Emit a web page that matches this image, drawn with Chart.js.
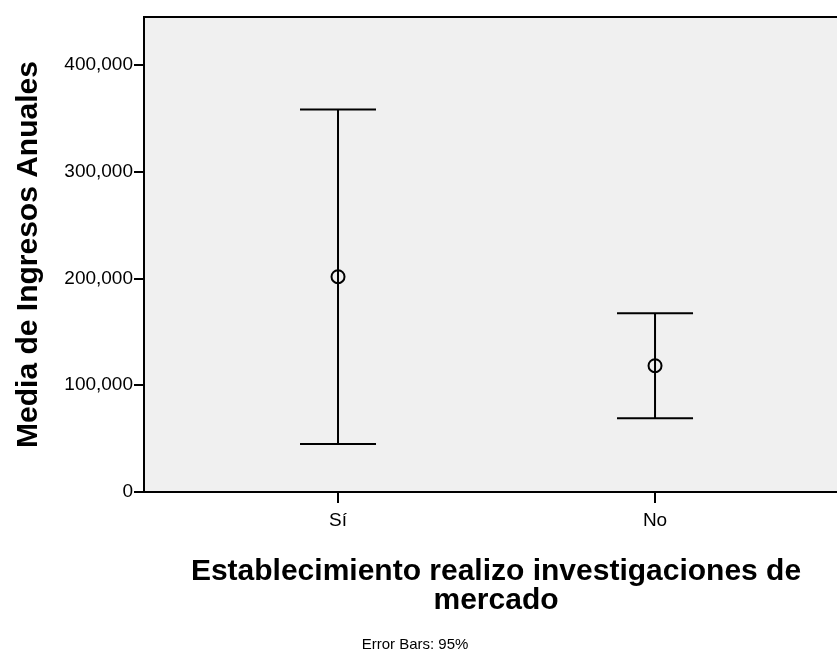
<!DOCTYPE html>
<html>
<head>
<meta charset="utf-8">
<script src="https://cdn.jsdelivr.net/npm/chart.js@4/dist/chart.umd.min.js"></script>
<style>
  html, body { margin: 0; padding: 0; background: #fff; overflow: hidden; }
  #wrap { width: 837px; height: 652px; position: relative; }
</style>
</head>
<body>
<div id="wrap"><canvas id="c"></canvas></div>
<script>
// ---- data ----
const categories = ["Sí", "No"];
const means = [201700, 118300];
const lowerCI = [45000, 69000];
const upperCI = [358300, 167400];
const yTickValues = [0, 100000, 200000, 300000, 400000];
const yAxisTitle = "Media de Ingresos Anuales";
const xAxisTitle = ["Establecimiento realizo investigaciones de", "mercado"];
const footnote = "Error Bars: 95%";

const FONT = "'Liberation Sans', Arial, sans-serif";

const errorBarPlugin = {
  id: 'errorBars',
  beforeDatasetsDraw(chart) {
    const ctx = chart.ctx;
    const xs = chart.scales.x, ys = chart.scales.y;
    const cap = 38;
    ctx.save();
    ctx.strokeStyle = '#000';
    ctx.lineWidth = 2;
    categories.forEach((c, i) => {
      const x = xs.getPixelForValue(i + 1);
      const yl = ys.getPixelForValue(lowerCI[i]);
      const yu = ys.getPixelForValue(upperCI[i]);
      ctx.beginPath();
      ctx.moveTo(x, yl); ctx.lineTo(x, yu);
      ctx.moveTo(x - cap, yu); ctx.lineTo(x + cap, yu);
      ctx.moveTo(x - cap, yl); ctx.lineTo(x + cap, yl);
      ctx.stroke();
    });
    ctx.restore();
  }
};

const bgPlugin = {
  id: 'plotBg',
  beforeDraw(chart) {
    const {ctx, chartArea: a} = chart;
    ctx.save();
    ctx.fillStyle = '#f0f0f0';
    ctx.fillRect(a.left, a.top, chart.width - a.left, a.bottom - a.top);
    ctx.restore();
  },
  afterDraw(chart) {
    const {ctx, chartArea: a} = chart;
    ctx.save();
    ctx.strokeStyle = '#000';
    ctx.lineWidth = 2;
    ctx.beginPath();
    ctx.moveTo(a.left - 1, a.top);
    ctx.lineTo(chart.width, a.top);
    ctx.stroke();
    ctx.fillStyle = '#000';
    ctx.textAlign = 'center';
    ctx.textBaseline = 'middle';
    // y title
    ctx.save();
    ctx.translate(29, (a.top + a.bottom) / 2);
    ctx.rotate(-Math.PI / 2);
    ctx.font = "bold 30px " + FONT;
    ctx.fillText(yAxisTitle, 0, 0);
    ctx.restore();
    // x title
    ctx.font = "bold 30px " + FONT;
    ctx.fillText(xAxisTitle[0], 496, 572);
    ctx.fillText(xAxisTitle[1], 496, 601);
    // footnote
    ctx.font = "15px " + FONT;
    ctx.fillText(footnote, 415, 645);
    ctx.restore();
  }
};

new Chart(document.getElementById('c'), {
  type: 'scatter',
  data: {
    datasets: [{
      data: categories.map((c, i) => ({x: i + 1, y: means[i]})),
      pointStyle: 'circle',
      pointRadius: 6.5,
      pointHoverRadius: 6.5,
      pointBorderWidth: 2,
      borderColor: '#000',
      backgroundColor: 'rgba(0,0,0,0)',
      pointBackgroundColor: 'rgba(0,0,0,0)'
    }]
  },
  options: {
    responsive: true,
    maintainAspectRatio: false,
    animation: false,
    events: [],
    layout: { autoPadding: false, padding: { top: 17, right: 0, left: 0, bottom: 0 } },
    plugins: { legend: { display: false }, tooltip: { enabled: false } },
    scales: {
      x: {
        type: 'linear',
        min: 0.388,
        max: 2.574,
        afterBuildTicks(scale) { scale.ticks = categories.map((c, i) => ({value: i + 1})); },
        afterFit(scale) { scale.height = 160; scale.paddingLeft = 0; scale.paddingRight = 0; },
        ticks: {
          callback: (v) => categories[v - 1] ?? '',
          color: '#000',
          font: { family: FONT, size: 19 },
          padding: 6,
          maxRotation: 0
        },
        grid: { drawOnChartArea: false, drawTicks: true, tickLength: 11, color: '#000', lineWidth: 2 },
        border: { color: '#000', width: 2 }
      },
      y: {
        min: 0,
        max: 445000,
        afterBuildTicks(scale) { scale.ticks = yTickValues.map(v => ({value: v})); },
        afterFit(scale) { scale.width = 144; },
        ticks: {
          callback: (v) => v.toLocaleString('en-US'),
          color: '#000',
          font: { family: FONT, size: 19 },
          padding: 1
        },
        grid: { drawOnChartArea: false, drawTicks: true, tickLength: 10, color: '#000', lineWidth: 2 },
        border: { color: '#000', width: 2 }
      }
    }
  },
  plugins: [bgPlugin, errorBarPlugin]
});
</script>
</body>
</html>
